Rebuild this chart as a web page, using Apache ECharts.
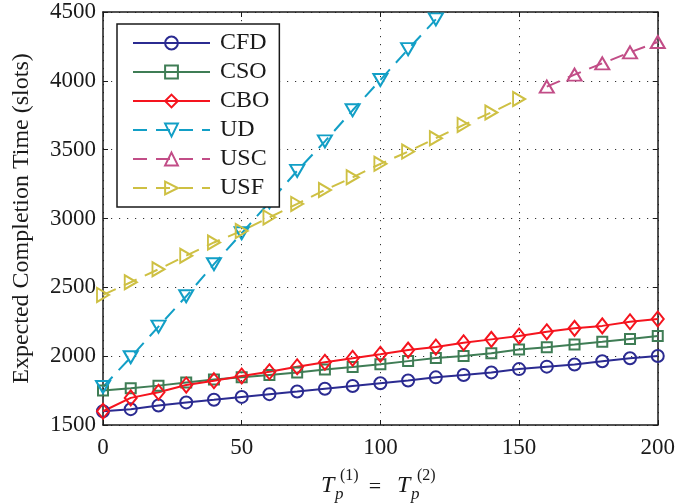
<!DOCTYPE html>
<html>
<head>
<meta charset="utf-8">
<script src="https://cdn.jsdelivr.net/npm/echarts@6/dist/echarts.min.js"></script>
<style>
  html, body { margin: 0; padding: 0; background: #fff; }
  #chart { width: 678px; height: 504px; }
</style>
</head>
<body>
<div id="chart"></div>
<script>
// Processing time T_p (slots), shared by every curve
const tpValues = [0, 10, 20, 30, 40, 50, 60, 70, 80, 90, 100, 110, 120, 130, 140, 150, 160, 170, 180, 190, 200];

// Expected completion time (slots) per scheme
const cfd = [1600, 1615, 1642, 1664, 1683, 1704, 1724, 1743, 1763, 1783, 1803, 1823, 1846, 1863, 1882, 1906, 1924, 1940, 1963, 1985, 2001];
const cso = [1750, 1767, 1786, 1808, 1830, 1847, 1864, 1881, 1904, 1922, 1941, 1964, 1987, 2001, 2022, 2048, 2065, 2084, 2104, 2125, 2146];
const cbo = [1600, 1697, 1738, 1790, 1822, 1856, 1887, 1923, 1956, 1985, 2014, 2044, 2066, 2097, 2122, 2146, 2177, 2202, 2220, 2250, 2270];
const ud  = [1776, 1992, 2215, 2435, 2668, 2893, 3118, 3346, 3560, 3786, 4006, 4230, 4446];
const usc = [null, null, null, null, null, null, null, null, null, null, null, null, null, null, null, null, 3958, 4045, 4127, 4207, 4282];
const usf = [2445, 2537, 2631, 2730, 2826, 2910, 3008, 3106, 3207, 3299, 3397, 3486, 3583, 3680, 3770, 3868];

// Axis ticks
const xTicks = { min: 0, max: 200, interval: 50 };
const yTicks = { min: 1500, max: 4500, interval: 500 };

const serif = '"Liberation Serif", "Times New Roman", "DejaVu Serif", serif';
const ink = '#1a1a1a';

function pairs(values) {
  return values.map((v, i) => [tpValues[i], v]);
}

function curve(name, values, color, symbol, opts) {
  opts = opts || {};
  return {
    name: name,
    type: 'line',
    data: pairs(values),
    symbol: symbol,
    symbolSize: opts.size || 12,
    symbolRotate: opts.rotate || 0,
    showAllSymbol: true,
    connectNulls: false,
    lineStyle: { color: color, width: 2, type: opts.dash ? [14, 9] : 'solid' },
    itemStyle: { color: 'rgba(255,255,255,0)', borderColor: color, borderWidth: 2 },
    emphasis: { disabled: true },
    clip: true
  };
}

const chart = echarts.init(document.getElementById('chart'), null, { renderer: 'canvas' });

const frameAxisLine = { show: true, onZero: false, lineStyle: { color: ink, width: 1.5 } };
const innerTick = { show: true, inside: true, length: 5, lineStyle: { color: ink, width: 1 } };
const plainNumber = v => String(v);

chart.setOption({
  animation: false,
  backgroundColor: '#ffffff',
  grid: { left: 103, right: 19, top: 12, bottom: 79, containLabel: false },
  legend: {
    orient: 'vertical',
    left: 117,
    top: 24,
    padding: [7, 10, 7, 15],
    itemGap: 5,
    itemWidth: 77,
    itemHeight: 16,
    borderColor: ink,
    borderWidth: 1.5,
    backgroundColor: '#ffffff',
    textStyle: { fontFamily: serif, fontSize: 24, color: ink, lineHeight: 22, padding: [0, 0, 0, 5] },
    data: ['CFD', 'CSO', 'CBO', 'UD', 'USC', 'USF']
  },
  xAxis: [
    {
      type: 'value',
      min: xTicks.min, max: xTicks.max, interval: xTicks.interval,
      axisLine: frameAxisLine,
      axisTick: innerTick,
      axisLabel: { fontFamily: serif, fontSize: 23, color: ink, margin: 11, formatter: plainNumber },
      splitLine: { show: true, lineStyle: { color: '#333', width: 1, type: [1.2, 6.8] } }
    },
    {
      type: 'value', position: 'top',
      min: xTicks.min, max: xTicks.max, interval: xTicks.interval,
      axisLine: frameAxisLine,
      axisTick: innerTick,
      axisLabel: { show: false },
      splitLine: { show: false }
    }
  ],
  yAxis: [
    {
      type: 'value',
      min: yTicks.min, max: yTicks.max, interval: yTicks.interval,
      name: 'Expected Completion Time (slots)',
      nameLocation: 'middle',
      nameGap: 69,
      nameTextStyle: { fontFamily: serif, fontSize: 24, color: ink },
      axisLine: frameAxisLine,
      axisTick: innerTick,
      axisLabel: { fontFamily: serif, fontSize: 23, color: ink, margin: 7, formatter: plainNumber },
      splitLine: { show: true, lineStyle: { color: '#333', width: 1, type: [1.2, 6.8] } }
    },
    {
      type: 'value', position: 'right',
      min: yTicks.min, max: yTicks.max, interval: yTicks.interval,
      axisLine: frameAxisLine,
      axisTick: innerTick,
      axisLabel: { show: false },
      splitLine: { show: false }
    }
  ],
  series: [
    curve('CFD', cfd, '#2b2b91', 'circle', { size: 12 }),
    curve('CSO', cso, '#3f7d55', 'rect', { size: 10 }),
    curve('CBO', cbo, '#f5141e', 'diamond', { size: [12, 15] }),
    curve('UD', ud, '#129fc6', 'triangle', { size: [14, 12], rotate: 180, dash: true }),
    curve('USC', usc, '#c24d87', 'triangle', { size: [14, 12], dash: true }),
    curve('USF', usf, '#cec043', 'triangle', { size: [14, 12], rotate: -90, dash: true })
  ],
  graphic: [
    // x-axis title: T_p^(1) = T_p^(2)
    { type: 'text', x: 321, y: 486, style: { text: 'T', font: 'italic 24px ' + serif, fill: ink, align: 'left', verticalAlign: 'middle' } },
    { type: 'text', x: 335, y: 495, style: { text: 'p', font: 'italic 17px ' + serif, fill: ink, align: 'left', verticalAlign: 'middle' } },
    { type: 'text', x: 340, y: 476, style: { text: '(1)', font: '16px ' + serif, fill: ink, align: 'left', verticalAlign: 'middle' } },
    { type: 'text', x: 375, y: 487, style: { text: '=', font: '22px ' + serif, fill: ink, align: 'center', verticalAlign: 'middle' } },
    { type: 'text', x: 397, y: 486, style: { text: 'T', font: 'italic 24px ' + serif, fill: ink, align: 'left', verticalAlign: 'middle' } },
    { type: 'text', x: 411, y: 495, style: { text: 'p', font: 'italic 17px ' + serif, fill: ink, align: 'left', verticalAlign: 'middle' } },
    { type: 'text', x: 417, y: 476, style: { text: '(2)', font: '16px ' + serif, fill: ink, align: 'left', verticalAlign: 'middle' } }
  ]
});
</script>
</body>
</html>
